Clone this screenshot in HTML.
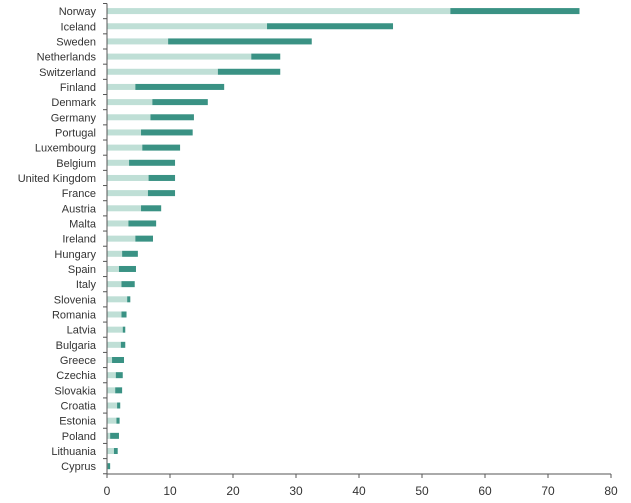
<!DOCTYPE html>
<html><head><meta charset="utf-8"><style>
body{margin:0;background:#fff;}
svg{display:block;font-family:"Liberation Sans",sans-serif;}
</style></head><body>
<svg id="chart" width="631" height="503" viewBox="0 0 631 503"></svg>
<script>
const countries=["Norway","Iceland","Sweden","Netherlands","Switzerland","Finland","Denmark","Germany","Portugal","Luxembourg","Belgium","United Kingdom","France","Austria","Malta","Ireland","Hungary","Spain","Italy","Slovenia","Romania","Latvia","Bulgaria","Greece","Czechia","Slovakia","Croatia","Estonia","Poland","Lithuania","Cyprus"];
const baseValues=[54.5,25.4,9.7,22.9,17.6,4.5,7.2,6.9,5.4,5.6,3.5,6.6,6.5,5.4,3.4,4.5,2.4,1.9,2.3,3.2,2.3,2.5,2.2,0.8,1.4,1.3,1.6,1.5,0.5,1.1,0.1];
const totalValues=[75,45.4,32.5,27.5,27.5,18.6,16,13.8,13.6,11.6,10.8,10.8,10.8,8.6,7.8,7.3,4.9,4.6,4.4,3.7,3.1,2.9,2.9,2.7,2.5,2.4,2.1,2.0,1.9,1.7,0.5];
const xTicks=[0,10,20,30,40,50,60,70,80];
const NS="http://www.w3.org/2000/svg";
const svg=document.getElementById('chart');
const x0=107,x1=611,yTop=3.5,step=15.17;
const xs=v=>x0+(v/80)*(x1-x0);
const yc=i=>yTop+step*(i+0.5);
const axisY=474;
function mk(t,a){const e=document.createElementNS(NS,t);for(const k in a)e.setAttribute(k,a[k]);svg.appendChild(e);return e;}
countries.forEach((c,i)=>{
  const y=yc(i);
  const t=mk('text',{x:96,y:y+4,'text-anchor':'end','font-size':'11',fill:'#333'});
  t.textContent=c;
  
  
  const b1=mk('rect',{x:xs(0),y:y-3,width:xs(baseValues[i])-xs(0),height:6,fill:'#bfdfd6'});
  
  
  const b2=mk('rect',{x:xs(baseValues[i]),y:y-3,width:Math.max(0,xs(totalValues[i])-xs(baseValues[i])),height:6,fill:'#3a9284'});
  
  
});
for(let i=0;i<=countries.length;i++){
  const y=yTop+step*i;
  const tk=mk('line',{x1:x0-4,x2:x0,y1:y,y2:y,stroke:'#555','stroke-width':1});
  
  
}
const ya=mk('line',{x1:x0,x2:x0,y1:yTop,y2:axisY,stroke:'#555','stroke-width':1});


const xa=mk('line',{x1:x0,x2:x1,y1:axisY,y2:axisY,stroke:'#555','stroke-width':1});


xTicks.forEach(v=>{
  const l=mk('line',{x1:xs(v),x2:xs(v),y1:axisY,y2:axisY+4,stroke:'#555','stroke-width':1});
  
  
  const t=mk('text',{x:xs(v),y:495,'text-anchor':'middle','font-size':'12',fill:'#333'});
  t.textContent=v;
  
  
});
</script>
</body></html>
